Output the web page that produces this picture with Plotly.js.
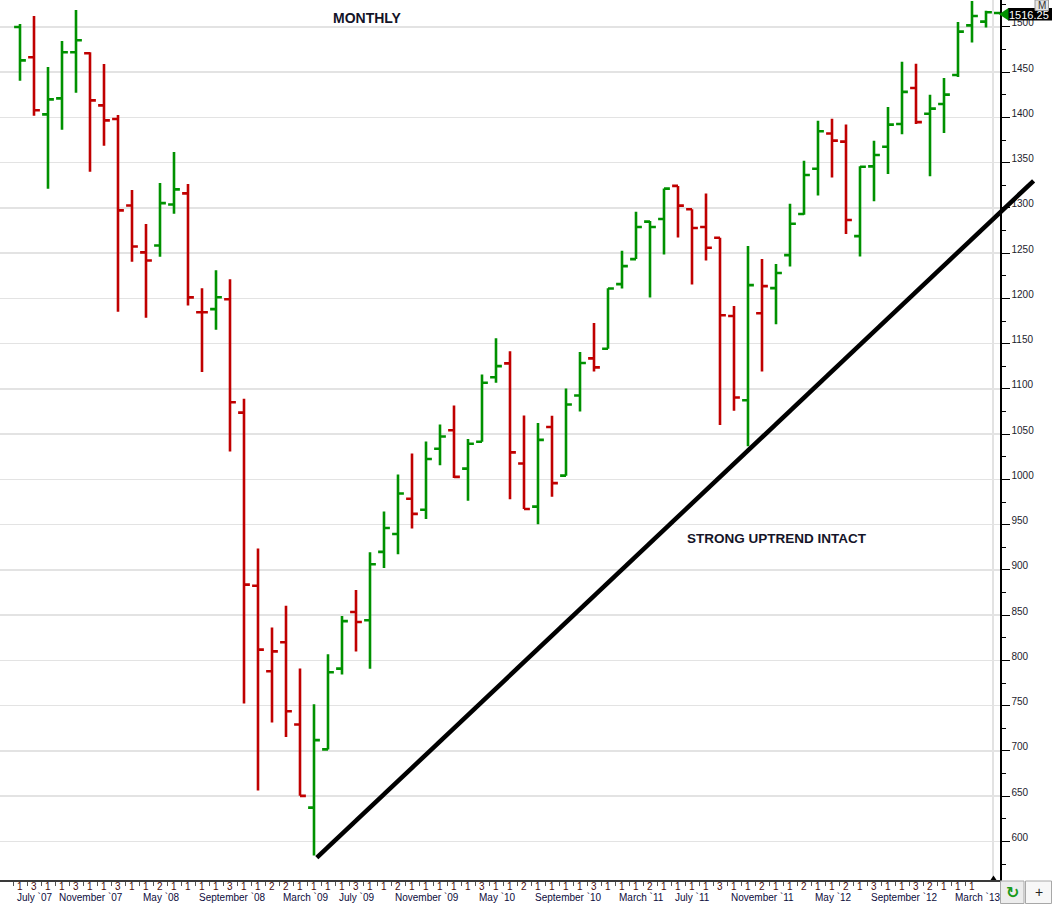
<!DOCTYPE html>
<html><head><meta charset="utf-8">
<script src="https://cdn.plot.ly/plotly-3.0.1.min.js"></script>
<style>html,body{margin:0;padding:0;background:#fff;} #chart{width:1052px;height:904px;}</style>
</head><body><div id="chart"></div>
<script>
// ---- data (monthly bars) ----
const months = [
 "2007-06","2007-07","2007-08","2007-09","2007-10","2007-11","2007-12",
 "2008-01","2008-02","2008-03","2008-04","2008-05","2008-06","2008-07","2008-08","2008-09","2008-10","2008-11","2008-12",
 "2009-01","2009-02","2009-03","2009-04","2009-05","2009-06","2009-07","2009-08","2009-09","2009-10","2009-11","2009-12",
 "2010-01","2010-02","2010-03","2010-04","2010-05","2010-06","2010-07","2010-08","2010-09","2010-10","2010-11","2010-12",
 "2011-01","2011-02","2011-03","2011-04","2011-05","2011-06","2011-07","2011-08","2011-09","2011-10","2011-11","2011-12",
 "2012-01","2012-02","2012-03","2012-04","2012-05","2012-06","2012-07","2012-08","2012-09","2012-10","2012-11","2012-12",
 "2013-01","2013-02","2013-03"];
const openP = [1500.0,1466.5,1403.4,1421.1,1472.0,1470.9,1413.4,1398.3,1302.8,1250.9,
 1258.6,1303.9,1316.1,1184.8,1188.2,1199.2,1073.9,882.5,788.1,820.1,
 729.3,637.4,701.7,791.0,853.5,844.5,920.0,939.8,978.7,966.6,
 1034.0,1054.3,1012.0,1041.7,1113.0,1128.3,1017.7,970.0,1058.0,1004.2,
 1092.8,1133.8,1144.5,1215.8,1243.5,1284.9,1287.8,1324.4,1298.5,1279.0,
 1267.1,1180.7,1087.6,1183.7,1211.4,1247.9,1293.3,1343.4,1382.2,1373.3,
 1268.9,1346.0,1367.6,1392.8,1432.6,1404.1,1414.9,1446.9,1501.8,1505.9];
const highP = [1503.3,1512.2,1455.8,1484.5,1518.8,1472.0,1459.1,1402.7,1319.8,1282.2,
 1327.5,1361.8,1326.4,1211.4,1231.3,1221.2,1089.1,923.7,836.3,860.5,
 791.0,751.6,806.8,849.2,877.8,919.5,964.6,1005.4,1028.7,1042.0,
 1060.8,1081.7,1044.7,1116.1,1156.1,1141.6,1070.7,1062.3,1070.4,1100.6,
 1140.8,1173.0,1211.4,1252.7,1295.9,1285.6,1321.4,1324.4,1298.5,1315.9,
 1267.1,1191.8,1258.1,1243.7,1238.2,1304.7,1352.3,1396.5,1398.7,1392.1,
 1346.0,1374.4,1411.6,1461.6,1459.4,1425.0,1443.6,1505.5,1528.6,1518.0];
const lowP = [1440.7,1402.0,1321.3,1386.5,1427.4,1340.0,1368.8,1185.2,1240.5,1178.6,
 1246.1,1293.6,1192.2,1118.8,1165.3,1030.8,752.3,656.4,731.3,715.5,
 650.4,584.4,701.7,784.4,809.8,790.8,902.1,917.3,945.9,956.3,
 1015.7,1001.6,976.5,1041.7,1106.9,978.0,967.3,950.5,981.0,1004.2,
 1075.1,1119.4,1144.5,1211.0,1243.5,1201.0,1248.7,1267.5,1215.4,1242.0,
 1060.3,1075.8,1036.6,1119.3,1171.6,1235.4,1292.6,1313.9,1333.8,1271.2,
 1246.5,1307.3,1337.5,1381.4,1392.7,1335.1,1382.7,1444.7,1482.8,1499.3];
const closeP = [1463.1,1407.9,1420.0,1472.0,1485.3,1418.9,1396.8,1297.3,1257.5,1242.0,
 1305.4,1320.5,1201.2,1184.8,1201.3,1085.3,883.8,812.0,810.0,743.8,
 650.4,712.0,787.0,843.5,842.5,906.3,946.3,984.5,962.0,1022.6,
 1047.4,1002.8,1039.4,1106.9,1125.2,1029.9,967.3,1043.7,996.0,1082.9,
 1128.7,1123.9,1211.0,1235.7,1279.0,1279.0,1321.4,1302.6,1277.8,1256.0,
 1181.5,1090.6,1214.7,1213.6,1228.2,1282.6,1336.4,1384.7,1374.4,1286.7,
 1345.6,1358.6,1392.1,1428.3,1394.8,1409.8,1425.2,1494.9,1512.1,1516.25];
// bar colour as drawn: G = green, R = red
const barColor = ("GRGGGRRRRR"+"GGRRGRRRRR"+"RGGGRGGGRG"+"GRGGGRRGRG"+"GRGGGGGRRR"+"RRGRGGGGRR"+"GGGGRGGGGG").split("");
// x-axis tick labels (one per month tick) and the month captions (tick index, text)
const tickNums = [1,3,1,1,3,1,1,3,1,1,2,1,1,1,1,3,1,1,2,2,1,1,1,1,
 3,1,1,2,1,1,1,1,1,3,1,1,
 2,1,1,1,1,3,1,1,1,2,1,1,1,1,3,1,1,2,1,1,2,1,1,2,1,3,1,1,3,2,1,1,1];
const monthLabelTicks = [0,3,9,13,19,23,27,33,37,43,47,51,57,61,67];
const monthLabelText = ["July `07","November `07","May `08","September `08","March `09","July `09",
 "November `09","May `10","September `10","March `11","July `11","November `11","May `12","September `12","March `13"];
const trendStart = [21.2, 582];
const trendEnd = [72.4, 1330];
const titleText = "MONTHLY";
const noteText = "STRONG UPTREND INTACT";

// ---- layout helpers ----
const GREEN = "#009100", RED = "#c00000";
const xRange = [-1.4286, 70.0];
const yRange = [557.4, 1529.8];
const PW = 1000, PH = 880;
const px = v => v / PW;                 // pixel x -> paper
const py = v => (PH - v) / PH;          // pixel y -> paper
const dx = v => (v - xRange[0]) / (xRange[1] - xRange[0]);
const dy = v => (v - yRange[0]) / (yRange[1] - yRange[0]);
const TICK_OFF = -0.43;

function ohlcTrace(flag, col) {
  const idx = months.map((m, i) => i).filter(i => barColor[i] === flag);
  return {
    type: "ohlc", x: idx,
    open: idx.map(i => openP[i]), high: idx.map(i => highP[i]),
    low: idx.map(i => lowP[i]), close: idx.map(i => closeP[i]),
    increasing: {line: {color: col, width: 2.6}},
    decreasing: {line: {color: col, width: 2.6}},
    line: {width: 2.6}, tickwidth: 0.42,
    hoverinfo: "skip", showlegend: false
  };
}

function note(x, y, text, font) {
  return {xref: "paper", yref: "paper", x: x, y: y, xanchor: "center", yanchor: "middle",
    showarrow: false, text: text, font: font};
}

const annotations = [];
tickNums.forEach((n, k) => annotations.push({
  xref: "x", yref: "paper", x: k + TICK_OFF, y: 0, xanchor: "left", yanchor: "middle",
  xshift: 1, yshift: -6.5, showarrow: false, text: String(n),
  font: {size: 10, color: "#4a0c0c", family: "Liberation Sans, Arial, sans-serif"}
}));
monthLabelTicks.forEach((k, j) => annotations.push({
  xref: "x", yref: "paper", x: k + TICK_OFF, y: 0, xanchor: "left", yanchor: "middle",
  xshift: 1, yshift: -17.5, showarrow: false, text: monthLabelText[j],
  font: {size: 10, color: "#0c0c3c", family: "Liberation Sans, Arial, sans-serif"}
}));
annotations.push(note(px(367), py(18), "<b>" + titleText + "</b>", {size: 14, color: "#141428"}));
annotations.push(note(px(776.5), py(538), "<b>" + noteText + "</b>", {size: 13.5, color: "#141428"}));
// last price tag
annotations.push(note(px(1029), py(14.5), closeP[closeP.length - 1].toFixed(2), {size: 11, color: "#ffffff"}));
annotations.push(note(px(1041.8), py(5.5), "M", {size: 10, color: "#333"}));
annotations.push(note(px(1012.3), py(892.5), "<b>↻</b>", {size: 16, color: "#1a9a1a", family: "DejaVu Sans"}));
annotations.push(note(px(1038.5), py(892), "+", {size: 14, color: "#222"}));

const shapes = [
  // current-bar marker line
  {type: "line", xref: "x", yref: "paper", x0: 69.5, x1: 69.5, y0: 0, y1: 1,
   line: {color: "#d9d9d9", width: 1.5}, layer: "below"},
  {type: "path", xref: "paper", yref: "paper",
   path: `M ${px(990.5)},${py(880)} L ${px(996.5)},${py(880)} L ${px(993.5)},${py(875.5)} Z`,
   fillcolor: "#000", line: {width: 0}},
  // trend line
  {type: "line", xref: "paper", yref: "paper",
   x0: dx(trendStart[0]), y0: dy(trendStart[1]), x1: dx(trendEnd[0]), y1: dy(trendEnd[1]),
   line: {color: "#000", width: 4.5}},
  // price tag
  {type: "rect", xref: "paper", yref: "paper", x0: px(1008), x1: px(1053), y0: py(20.5), y1: py(8),
   fillcolor: "#000", line: {width: 0}},
  {type: "path", xref: "paper", yref: "paper",
   path: `M ${px(999)},${py(14.2)} L ${px(1008.5)},${py(8)} L ${px(1008.5)},${py(20.5)} Z`,
   fillcolor: GREEN, line: {width: 0}},
  {type: "line", xref: "paper", yref: "paper", x0: px(994), x1: px(1000), y0: py(13), y1: py(13),
   line: {color: GREEN, width: 2.5}},
  // M box
  {type: "rect", xref: "paper", yref: "paper", x0: px(1035), x1: px(1048.5), y0: py(10.5), y1: py(0),
   fillcolor: "#e4e4e4", line: {color: "#9a9a9a", width: 1}},
  // bottom-right buttons
  {type: "rect", xref: "paper", yref: "paper", x0: px(1000.5), x1: px(1024), y0: py(903.5), y1: py(881),
   fillcolor: "#ececec", line: {color: "#a8a8a8", width: 1}},
  {type: "rect", xref: "paper", yref: "paper", x0: px(1025.5), x1: px(1051.5), y0: py(903.5), y1: py(881),
   fillcolor: "#f7f7f7", line: {color: "#a8a8a8", width: 1}}
];

const layout = {
  width: 1052, height: 904, autosize: false,
  margin: {l: 0, r: 52, t: 0, b: 24, pad: 0},
  paper_bgcolor: "#ffffff", plot_bgcolor: "#ffffff",
  font: {family: "Liberation Sans, Arial, sans-serif", size: 10, color: "#1c1c2c"},
  showlegend: false, hovermode: false,
  xaxis: {
    type: "linear", range: xRange, fixedrange: true, rangeslider: {visible: false},
    showgrid: false, zeroline: false, showline: true, linecolor: "#3a3a3a", linewidth: 2,
    tickmode: "array", tickvals: tickNums.map((n, k) => k + TICK_OFF), ticktext: tickNums.map(() => ""),
    showticklabels: false, ticks: "outside", ticklen: 4, tickwidth: 1, tickcolor: "#555"
  },
  yaxis: {
    type: "linear", range: yRange, fixedrange: true, side: "right",
    tick0: 0, dtick: 50, showgrid: true, gridcolor: "#e3e3e3", gridwidth: 1.5,
    zeroline: false, showline: true, linecolor: "#000", linewidth: 1.5,
    ticks: "outside", ticklen: 8, tickwidth: 1, tickcolor: "#000",
    ticklabelshift: -4,
    tickfont: {size: 10, color: "#1c1c2c"},
    minor: {dtick: 25, ticks: "outside", ticklen: 4, tickwidth: 1, tickcolor: "#000", showgrid: false}
  },
  shapes: shapes,
  annotations: annotations
};

Plotly.newPlot("chart", [ohlcTrace("G", GREEN), ohlcTrace("R", RED)], layout,
  {displayModeBar: false, staticPlot: true});
</script>
</body></html>
